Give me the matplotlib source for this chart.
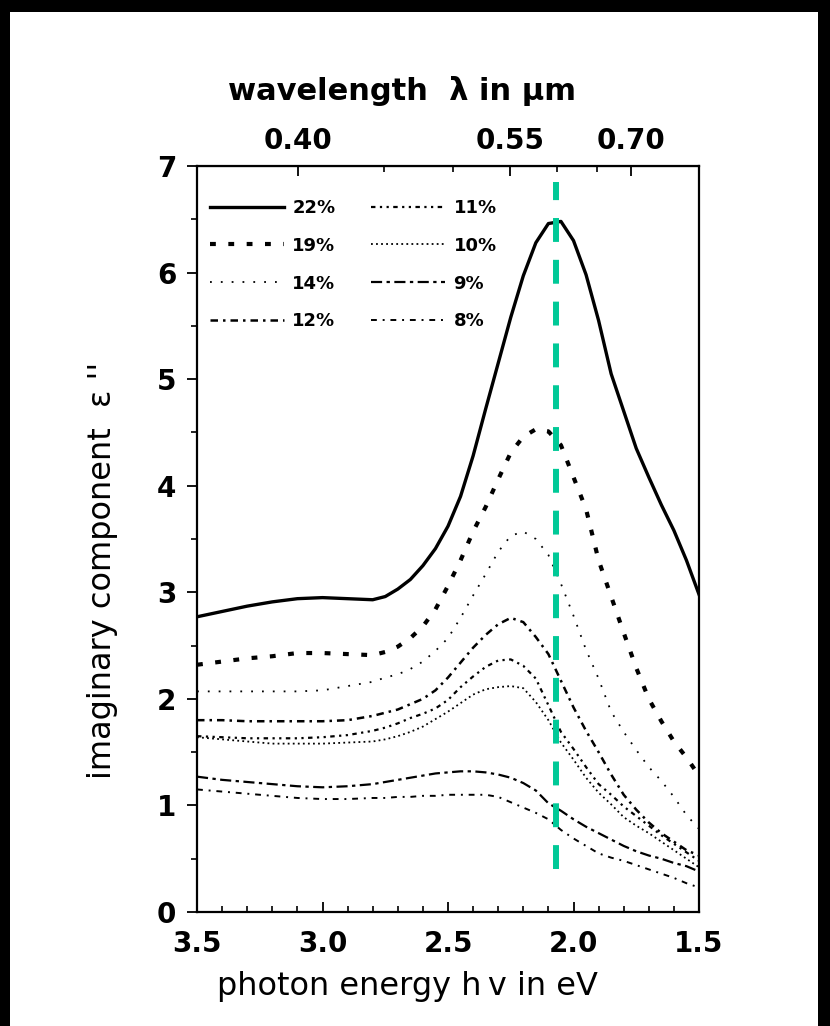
import numpy as np
import matplotlib.pyplot as plt
from matplotlib.patches import Rectangle
from matplotlib.ticker import FixedLocator, MultipleLocator

plt.rcParams['font.family'] = ['DejaVu Sans']

# photon energy grid (eV)
energy = [3.5, 3.4, 3.3, 3.2, 3.1, 3.0, 2.9, 2.8, 2.75, 2.7, 2.65, 2.6, 2.55, 2.5,
          2.45, 2.4, 2.35, 2.3, 2.25, 2.2, 2.15, 2.1, 2.05, 2.0, 1.95, 1.9, 1.85,
          1.8, 1.75, 1.7, 1.65, 1.6, 1.55, 1.5]

eps_22 = [2.77, 2.82, 2.87, 2.91, 2.94, 2.95, 2.94, 2.93, 2.96, 3.03, 3.12, 3.25, 3.41, 3.62,
          3.90, 4.28, 4.72, 5.15, 5.58, 5.97, 6.28, 6.46, 6.48, 6.30, 5.98, 5.55, 5.05,
          4.70, 4.35, 4.08, 3.82, 3.58, 3.30, 2.98]
eps_19 = [2.32, 2.35, 2.38, 2.40, 2.43, 2.43, 2.42, 2.41, 2.44, 2.49, 2.57, 2.68, 2.84, 3.06,
          3.30, 3.57, 3.80, 4.06, 4.31, 4.46, 4.53, 4.51, 4.38, 4.08, 3.78, 3.30, 2.96,
          2.62, 2.29, 2.00, 1.79, 1.60, 1.45, 1.28]
eps_14 = [2.07, 2.07, 2.07, 2.07, 2.07, 2.08, 2.12, 2.16, 2.20, 2.23, 2.28, 2.35, 2.45, 2.57,
          2.76, 2.97, 3.17, 3.38, 3.53, 3.57, 3.50, 3.35, 3.08, 2.78, 2.46, 2.19, 1.88,
          1.69, 1.52, 1.36, 1.23, 1.08, 0.91, 0.78]
eps_12 = [1.80, 1.80, 1.79, 1.79, 1.79, 1.79, 1.80, 1.84, 1.87, 1.90, 1.95, 2.00, 2.08, 2.20,
          2.34, 2.48, 2.60, 2.70, 2.76, 2.72, 2.58, 2.42, 2.17, 1.92, 1.70, 1.50, 1.29,
          1.10, 0.96, 0.84, 0.74, 0.66, 0.58, 0.53]
eps_11 = [1.65, 1.64, 1.63, 1.63, 1.63, 1.64, 1.66, 1.70, 1.73, 1.77, 1.82, 1.86, 1.91, 1.99,
          2.11, 2.21, 2.30, 2.36, 2.37, 2.31, 2.19, 1.94, 1.69, 1.53, 1.36, 1.20, 1.10,
          0.99, 0.90, 0.81, 0.72, 0.64, 0.56, 0.48]
eps_10 = [1.64, 1.62, 1.60, 1.58, 1.58, 1.58, 1.59, 1.60, 1.62, 1.65, 1.69, 1.74, 1.81, 1.88,
          1.96, 2.04, 2.09, 2.11, 2.12, 2.10, 1.97, 1.80, 1.59, 1.43, 1.26, 1.12, 1.01,
          0.89, 0.81, 0.74, 0.66, 0.58, 0.50, 0.42]
eps_9 = [1.27, 1.24, 1.22, 1.20, 1.18, 1.17, 1.18, 1.20, 1.22, 1.24, 1.26, 1.28, 1.30, 1.31,
         1.32, 1.32, 1.31, 1.29, 1.26, 1.21, 1.14, 1.02, 0.95, 0.87, 0.80, 0.74, 0.68,
         0.62, 0.57, 0.53, 0.50, 0.46, 0.43, 0.38]
eps_8 = [1.15, 1.13, 1.11, 1.09, 1.07, 1.06, 1.06, 1.07, 1.07, 1.08, 1.08, 1.09, 1.09, 1.10,
         1.10, 1.10, 1.10, 1.08, 1.03, 0.98, 0.93, 0.87, 0.77, 0.69, 0.62, 0.55, 0.51,
         0.48, 0.44, 0.40, 0.36, 0.32, 0.27, 0.23]

labels = ['22%', '19%', '14%', '12%', '11%', '10%', '9%', '8%']
series = [eps_22, eps_19, eps_14, eps_12, eps_11, eps_10, eps_9, eps_8]
styles = [('-', 2.4), ((0, (1.4, 3.0)), 3.0), ((0, (1, 5)), 1.3), ((0, (3, 2, 1, 2)), 1.8),
          ((0, (2, 2, 1, 2, 1, 2)), 1.6), ((0, (1, 1.8)), 1.3), ((0, (5, 2, 1.5, 2)), 1.6),
          ((0, (3, 3, 1, 3)), 1.4)]

energy_ticks = [3.5, 3.0, 2.5, 2.0, 1.5]
wavelength_ticks = [0.40, 0.55, 0.70]
marker_energy = 2.07
marker_span = [0.4, 6.85]

fig = plt.figure(figsize=(8.3, 10.26), dpi=100)
fig.patch.set_facecolor('black')
fig.patches.append(Rectangle((10 / 830, 0), 808 / 830, 1 - 12 / 1026,
                             transform=fig.transFigure, facecolor='white',
                             edgecolor='none', zorder=-10))
ax = fig.add_axes([197 / 830, 1 - 912 / 1026, 502 / 830, 746 / 1026])

for lab, y, (ls, lw) in zip(labels, series, styles):
    ax.plot(energy, y, color='black', linestyle=ls, linewidth=lw, label=lab)

ax.vlines(marker_energy, marker_span[0], marker_span[1], color='#00c997',
          linewidth=4.3, linestyles=(0, (4, 3)))

ax.set_xlim(3.5, 1.5)
ax.set_ylim(0, 7)
ax.xaxis.set_major_locator(FixedLocator(energy_ticks))
ax.xaxis.set_minor_locator(MultipleLocator(0.1))
ax.yaxis.set_major_locator(MultipleLocator(1))
ax.yaxis.set_minor_locator(MultipleLocator(0.5))
ax.set_xticklabels([f'{e:.1f}' for e in energy_ticks])
ax.tick_params(axis='x', which='both', direction='in', top=False, labelsize=20, pad=13)
ax.tick_params(axis='x', which='major', length=7, width=1.3)
ax.tick_params(axis='x', which='minor', length=4, width=1.2)
ax.tick_params(axis='y', which='both', direction='out', right=False, labelsize=20, pad=8)
ax.tick_params(axis='y', which='major', length=7, width=1.3)
ax.tick_params(axis='y', which='minor', length=4, width=1.2)
for t in ax.get_xticklabels() + ax.get_yticklabels():
    t.set_fontweight('bold')
for s in ax.spines.values():
    s.set_linewidth(1.6)

ax.set_xlabel('photon energy h\u2009v in eV', fontsize=23, labelpad=9, x=0.42)
ax.set_ylabel("imaginary component  \u03b5 ''", fontsize=23, labelpad=28, y=0.458)

conv = lambda x: 1.2398 / np.asarray(x, dtype=float)
sec = ax.secondary_xaxis('top', functions=(conv, conv))
sec.set_xticks(wavelength_ticks)
sec.set_xticklabels([f'{w:.2f}' for w in wavelength_ticks])
sec.xaxis.set_minor_locator(FixedLocator([0.45, 0.50, 0.60, 0.65]))
sec.tick_params(axis='x', which='both', direction='in', labelsize=20, pad=8)
sec.tick_params(axis='x', which='major', length=7, width=1.3)
sec.tick_params(axis='x', which='minor', length=4, width=1.2)
for t in sec.get_xticklabels():
    t.set_fontweight('bold')
sec.set_xlabel('wavelength  \u03bb in \u00b5m', fontsize=22, fontweight='bold',
               labelpad=19, x=0.408)

leg = ax.legend(ncol=2, loc='upper left', bbox_to_anchor=(0.008, 0.968),
                frameon=False, prop={'size': 13, 'weight': 'bold'},
                handlelength=4.1, handletextpad=0.45, columnspacing=2.0,
                labelspacing=1.1, borderpad=0)

fig.savefig('out.png', dpi=100, facecolor=fig.get_facecolor())
